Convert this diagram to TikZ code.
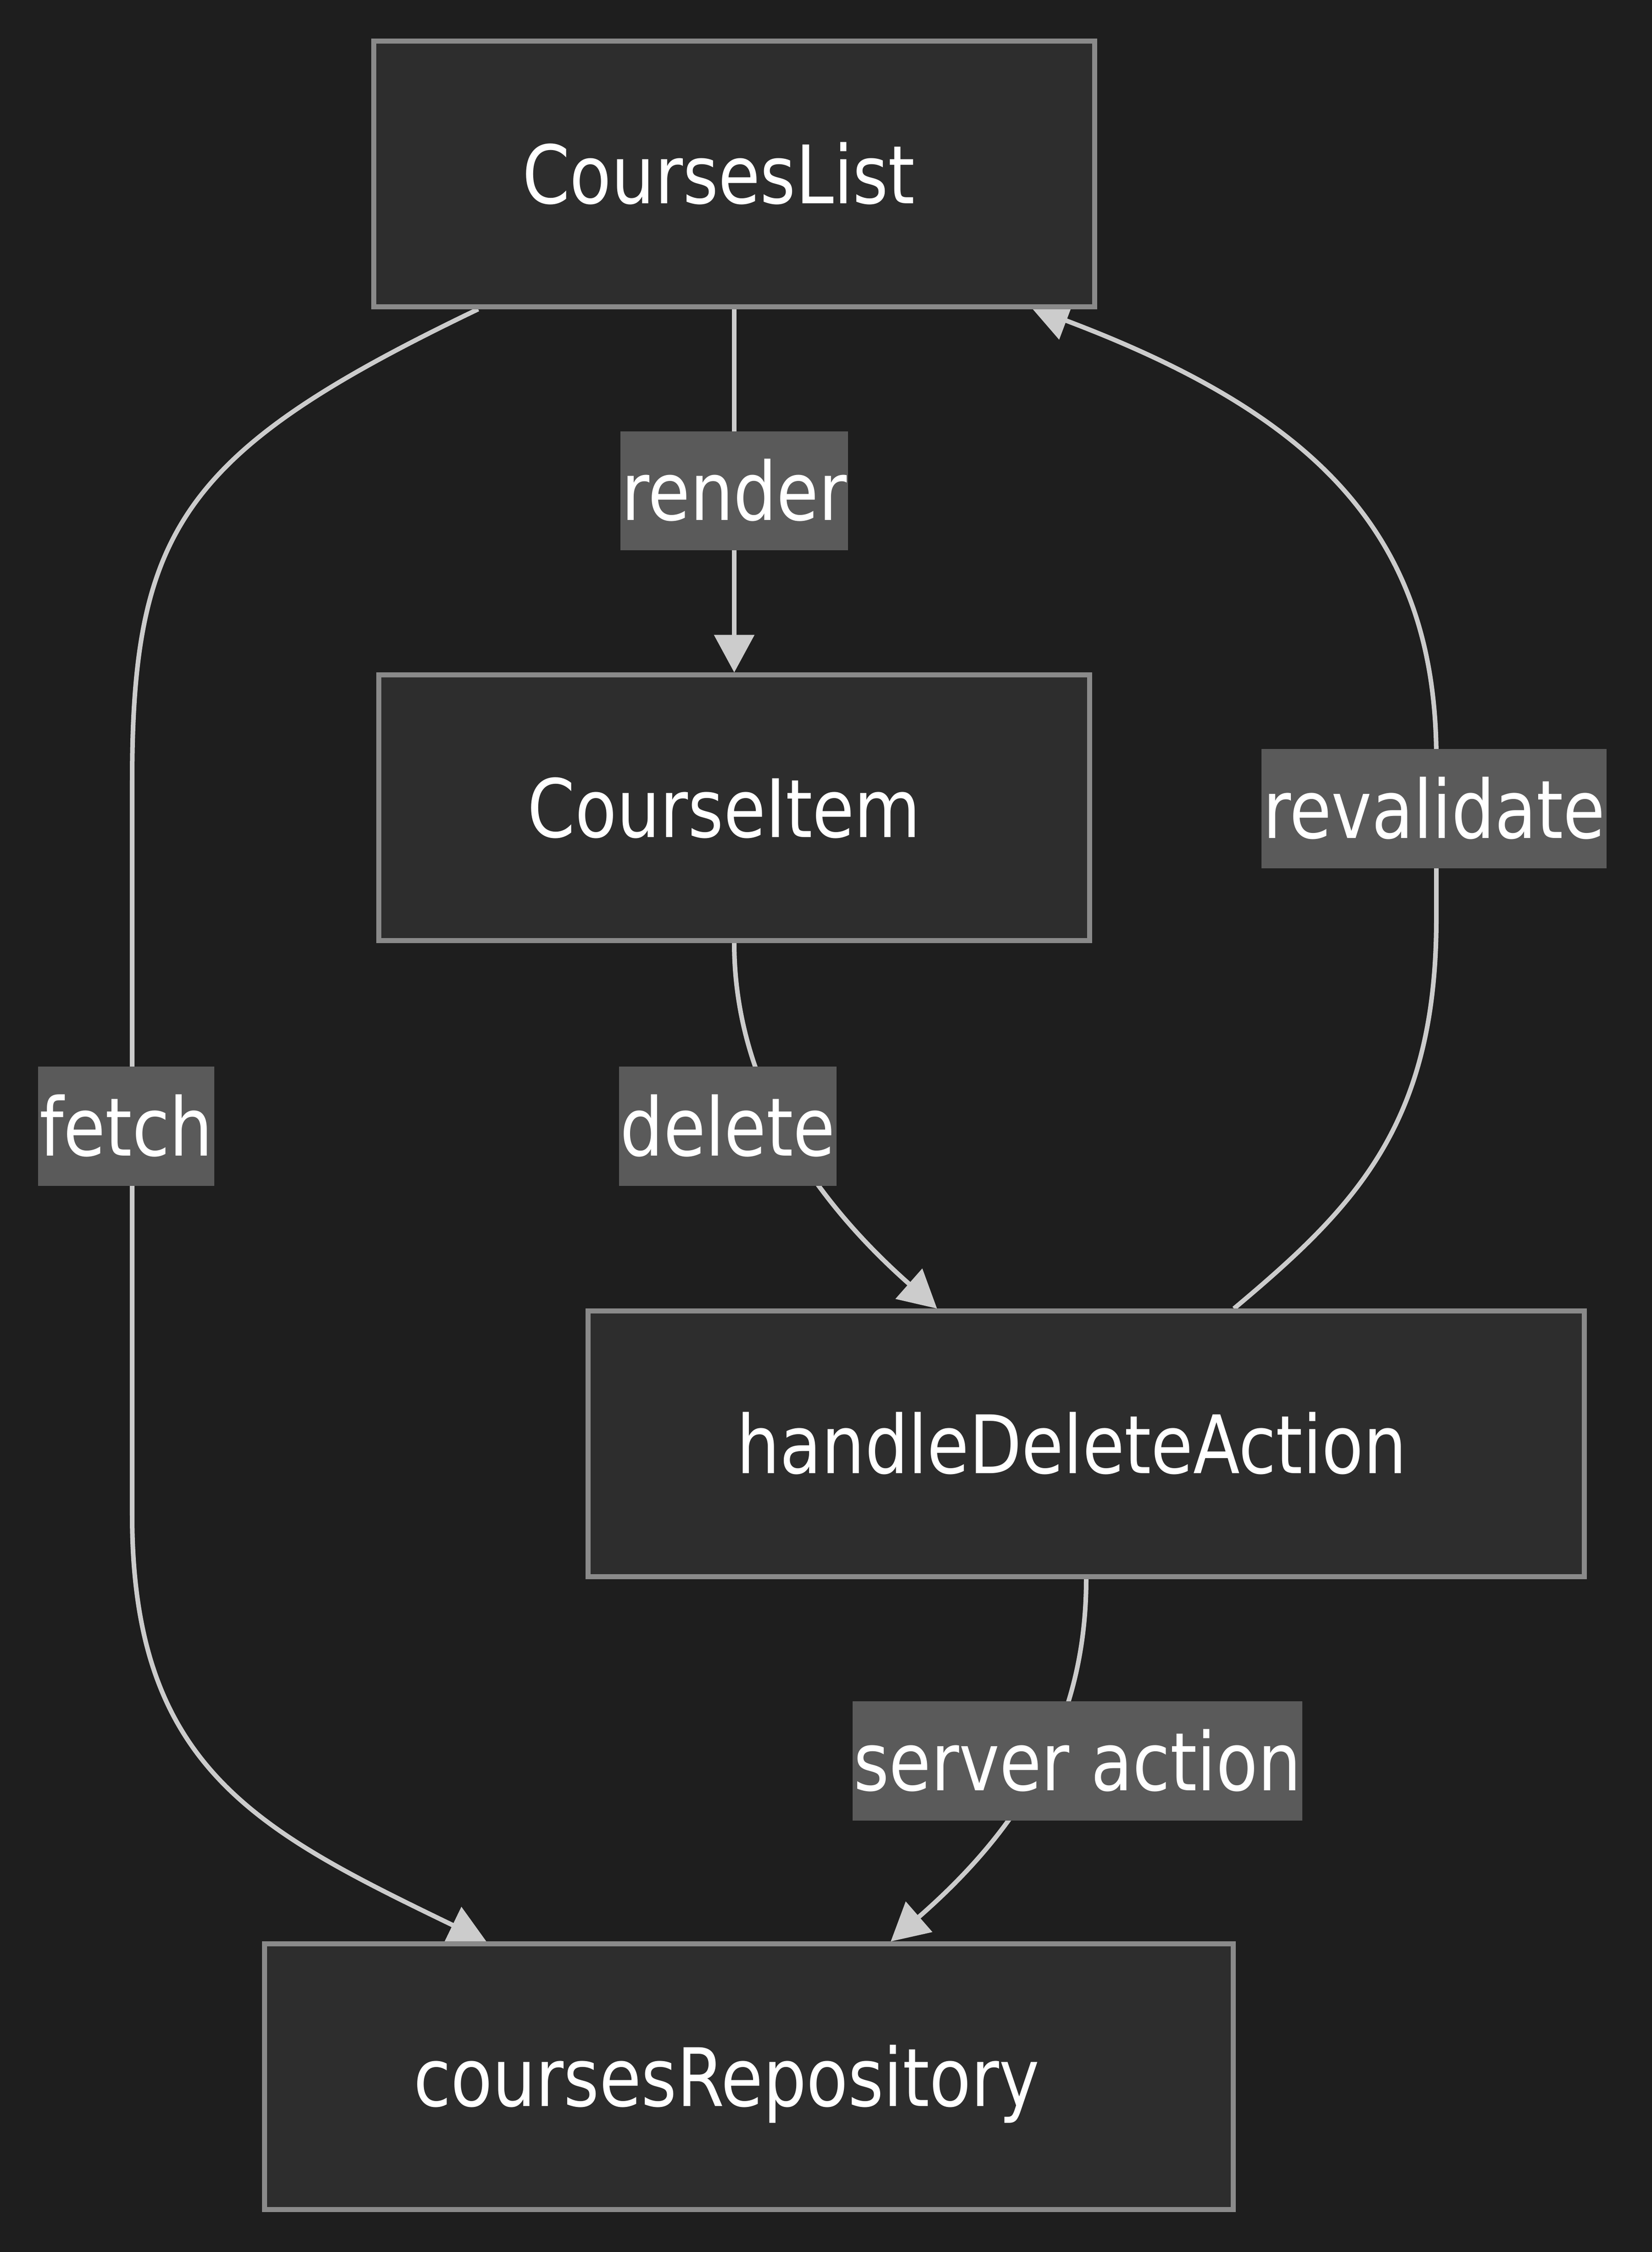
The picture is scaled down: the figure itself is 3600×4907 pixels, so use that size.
\documentclass[tikz,border=0pt]{standalone}
\usepackage{fontspec}
\setmainfont{DejaVu Sans}[FakeStretch=0.845]
\usetikzlibrary{arrows.meta,calc}
\definecolor{bgcol}{HTML}{1E1E1E}
\definecolor{boxfill}{HTML}{2D2D2D}
\definecolor{boxline}{HTML}{8A8A8A}
\definecolor{lblfill}{HTML}{5A5A5A}
\definecolor{edgecol}{HTML}{CCCCCC}
\pgfdeclarelayer{bglayer}
\pgfdeclarelayer{edgelayer}
\pgfsetlayers{bglayer,edgelayer,main}
\begin{document}
\begin{tikzpicture}[x=0.01cm,y=-0.01cm,
  every node/.style={font=\fontsize{50}{60}\selectfont, text=white},
  flowbox/.style={draw=boxline, fill=boxfill, line width=0.11cm, inner sep=0pt,
    minimum height=5.78cm, text height=36.45pt, text depth=0pt, align=left},
  edgelbl/.style={fill=lblfill, inner xsep=0.03cm, inner ysep=0pt,
    minimum height=2.59cm, text height=36.45pt, text depth=0pt},
  link/.style={draw=edgecol, line width=0.1cm, -{Triangle[length=0.82cm,width=0.86cm]}}]
\begin{pgfonlayer}{bglayer}
  \fill[bgcol] (0,0) rectangle (3600,4907);
\end{pgfonlayer}
\useasboundingbox (0,0) rectangle (3600,4907);

% nodes
\node[flowbox, minimum width=15.71cm, text width=9.23cm] (cl) at (1600,379) {CoursesList};
\node[flowbox, minimum width=15.48cm, text width=9.00cm] (ci) at (1600,1760) {CourseItem};
\node[flowbox, minimum width=21.70cm, text width=15.22cm] (hda) at (2367,3146) {handleDeleteAction};
\node[flowbox, minimum width=21.09cm, text width=14.61cm] (repo) at (1632,4525) {coursesRepository};

% edges
\begin{pgfonlayer}{edgelayer}
  \draw[link] (cl.south) -- (ci.north);
  \draw[link] ($(cl.south)+(-558,0)$) .. controls +(-642,308) and +(0,-550) .. ++(-754,1028)
     -- ++(0,1600) .. controls +(0,550) and +(-500,-242) .. ($(repo.north)+(-572,0)$);
  \draw[link] (ci.south) .. controls +(0,296) and +(-282,-249) .. ($(hda.north)+(-325,0)$);
  \draw[link] (hda.south) .. controls +(0,308) and +(289,-252) .. ($(repo.north)+(309,0)$);
  \draw[link] ($(hda.north)+(322,0)$) .. controls +(261,-219) and +(0,450) .. ++(441,-849)
     -- ++(0,-350) .. controls +(0,-500) and +(603,228) .. ($(cl.south)+(647,-4)$);
\end{pgfonlayer}

% edge labels
\node[edgelbl] (lrender) at ($(cl.south)!0.5!(ci.north)$) {render};
\node[edgelbl] (lfetch) at (275,2454) {fetch};
\node[edgelbl] (ldelete) at (1586,2454) {delete};
\node[edgelbl] (lreval) at (3125,1762) {revalidate};
\node[edgelbl] (lserver) at (2348,3837) {server action};
\end{tikzpicture}
\end{document}
